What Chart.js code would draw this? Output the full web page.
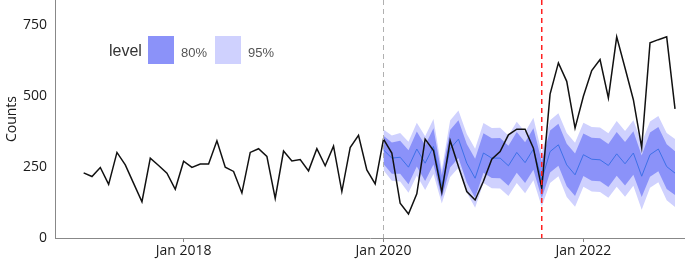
<!DOCTYPE html>
<html><head><meta charset="utf-8">
<script src="https://cdn.jsdelivr.net/npm/chart.js@4.4.1/dist/chart.umd.min.js"></script>
<style>html,body{margin:0;padding:0;background:#fff;overflow:hidden}#wrap{width:685px;height:264px;position:relative}</style>
</head><body><div id="wrap"><canvas id="c" width="685" height="264"></canvas></div>
<script>
// month index 0 = Jan 2017
const actual = [
  230,217,249,189,302,258,193,128,282,256,229,172,
  271,249,261,261,343,250,235,159,302,315,288,140,
  307,272,277,237,315,255,324,164,319,362,240,191,
  349,300,123,85,156,349,309,162,344,252,164,134,
  200,278,305,364,384,384,317,176,508,618,553,388,
  500,591,630,494,710,600,488,319,689,700,710,456
];
const fcStartIndex = 36; // Jan 2020
const fcMean = [
  311,282,285,250,314,264,323,182,315,349,264,211,
  300,282,282,255,302,266,314,205,305,329,258,223,
  294,278,276,256,297,262,300,218,294,314,252,229
];
const hi80 = [
  361,337,343,310,376,327,387,222,381,416,332,280,
  370,352,353,326,374,338,387,270,379,403,333,298,
  369,354,352,332,374,339,377,291,372,392,331,306
];
const lo80 = [
  261,227,227,190,252,201,259,142,249,282,196,142,
  230,212,211,184,230,194,241,140,231,255,183,148,
  219,202,200,180,220,185,223,145,216,236,173,152
];
const hi95 = [
  383,362,371,340,407,359,420,242,415,450,367,315,
  406,388,389,362,410,374,424,300,416,440,371,336,
  407,392,390,370,413,378,416,336,411,431,371,349
];
const lo95 = [
  239,202,199,160,221,169,226,122,215,248,161,107,
  194,176,175,148,194,158,204,110,194,218,145,110,
  181,164,162,142,181,146,184,100,177,197,133,109
];
const xTickPos = [12, 36, 60];
const xTickLabels = ['Jan 2018', 'Jan 2020', 'Jan 2022'];
const yTicks = [0, 250, 500, 750];
const vlineGrayAt = 36;  // Jan 2020
const vlineRedAt = 55;   // Aug 2021
const legendTitle = 'level';
const legendLabels = ['80%', '95%'];

const C80 = 'rgb(139,146,249)';
const C95 = 'rgb(207,209,254)';
const CMEAN = 'rgb(62,112,232)';

function pts(arr, off) { return arr.map((v, i) => ({ x: i + off, y: v })); }

const vlines = {
  id: 'vlines',
  afterDatasetsDraw(chart) {
    const { ctx, chartArea: a, scales: { x } } = chart;
    ctx.save();
    ctx.lineWidth = 1;
    ctx.strokeStyle = '#b0b0b0';
    ctx.setLineDash([5, 4]);
    let px = Math.round(x.getPixelForValue(vlineGrayAt)) + 0.5;
    ctx.beginPath(); ctx.moveTo(px, a.top); ctx.lineTo(px, a.bottom); ctx.stroke();
    ctx.lineWidth = 1.5;
    ctx.strokeStyle = '#ff2020';
    ctx.setLineDash([5, 4]);
    px = x.getPixelForValue(vlineRedAt);
    ctx.beginPath(); ctx.moveTo(px, a.top); ctx.lineTo(px, a.bottom); ctx.stroke();
    ctx.restore();
  }
};

const legendPlugin = {
  id: 'customLegend',
  afterDraw(chart) {
    const ctx = chart.ctx;
    ctx.save();
    ctx.textBaseline = 'middle';
    ctx.fillStyle = '#333';
    ctx.font = '16px "Liberation Sans", Arial, sans-serif';
    ctx.fillText(legendTitle, 109, 52);
    ctx.fillStyle = C80; ctx.fillRect(148, 36, 26, 28);
    ctx.fillStyle = C95; ctx.fillRect(215, 36, 26, 28);
    ctx.fillStyle = '#555';
    ctx.font = '13px "Liberation Sans", Arial, sans-serif';
    ctx.fillText(legendLabels[0], 181, 53);
    ctx.fillText(legendLabels[1], 248, 53);
    ctx.restore();
  }
};

new Chart(document.getElementById('c'), {
  type: 'line',
  data: {
    datasets: [
      { data: pts(actual, 0), borderColor: '#111', borderWidth: 1.5, fill: false },
      { data: pts(fcMean, fcStartIndex), borderColor: CMEAN, borderWidth: 1, fill: false },
      { data: pts(hi80, fcStartIndex), borderWidth: 0, borderColor: 'rgba(0,0,0,0)', backgroundColor: C80, fill: '+1' },
      { data: pts(lo80, fcStartIndex), borderWidth: 0, borderColor: 'rgba(0,0,0,0)', fill: false },
      { data: pts(hi95, fcStartIndex), borderWidth: 0, borderColor: 'rgba(0,0,0,0)', backgroundColor: C95, fill: '+1' },
      { data: pts(lo95, fcStartIndex), borderWidth: 0, borderColor: 'rgba(0,0,0,0)', fill: false }
    ]
  },
  options: {
    responsive: false,
    animation: false,
    layout: { padding: 0 },
    elements: { point: { radius: 0 }, line: { tension: 0 } },
    plugins: { legend: { display: false }, tooltip: { enabled: false } },
    scales: {
      x: {
        type: 'linear', min: -3.44, max: 72.2,
        afterBuildTicks(s) { s.ticks = xTickPos.map(v => ({ value: v })); },
        afterFit(s) { s.height = 26; s.paddingLeft = 0; s.paddingRight = 0; },
        ticks: {
          autoSkip: false, maxRotation: 0, padding: 1,
          color: '#1a1a1a', font: { family: '"Open Sans", sans-serif', size: 14 },
          callback(v) { const i = xTickPos.indexOf(v); return i >= 0 ? xTickLabels[i] : ''; }
        },
        grid: { drawOnChartArea: false, drawTicks: true, tickLength: 4, color: '#888' },
        border: { display: true, color: '#888', width: 1 }
      },
      y: {
        min: 0, max: 840,
        afterBuildTicks(s) { s.ticks = yTicks.map(v => ({ value: v })); },
        afterFit(s) { s.width = 55; s.paddingTop = 0; s.paddingBottom = 0; },
        ticks: {
          padding: 0, color: '#1a1a1a', font: { family: '"Open Sans", sans-serif', size: 14 }
        },
        grid: { display: false },
        border: { display: true, color: '#888', width: 1 },
        title: { display: true, text: 'Counts', color: '#1a1a1a', font: { family: '"Open Sans", sans-serif', size: 14 }, padding: { top: 4, bottom: 0 } }
      }
    }
  },
  plugins: [vlines, legendPlugin]
});
</script></body></html>
